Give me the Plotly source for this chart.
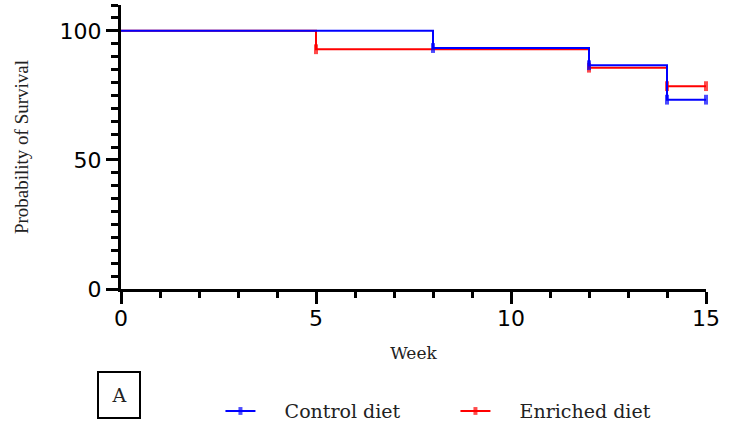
import plotly.graph_objects as go

# Data (Kaplan-Meier survival, %)
weeks_control = [0, 8, 12, 14, 15]
surv_control = [100, 93.33, 86.67, 73.33, 73.33]
weeks_enriched = [0, 5, 12, 14, 15]
surv_enriched = [100, 92.86, 85.71, 78.57, 78.57]
x_ticks = [0, 5, 10, 15]
y_ticks = [0, 50, 100]
series_names = ["Control diet", "Enriched diet"]

BLUE = "#0000FF"
RED = "#FF0000"
SERIF = "Liberation Serif, serif"
WIDE_SERIF = "DejaVu Serif, serif"
SANS = "DejaVu Sans, sans-serif"
PAD = "\u00a0\u00a0\u00a0\u00a0"

fig = go.Figure()

def km_trace(x, y, name, color, rank):
    sizes = [0] + [7] * (len(x) - 1)
    return go.Scatter(
        x=x, y=y, name=PAD + name, mode="lines+markers",
        line=dict(color=color, width=2, shape="hv"),
        marker=dict(symbol="line-ns", size=sizes, color=color,
                    line=dict(color=color, width=4)),
        cliponaxis=False, legendrank=rank,
    )

fig.add_trace(km_trace(weeks_enriched, surv_enriched, series_names[1], RED, 2))
fig.add_trace(km_trace(weeks_control, surv_control, series_names[0], BLUE, 1))

fig.update_layout(
    width=737, height=443,
    margin=dict(l=121, r=31, t=5, b=154),
    paper_bgcolor="white", plot_bgcolor="white",
    showlegend=True,
    legend=dict(
        orientation="h", x=0.17, y=-0.43, xanchor="left", yanchor="middle",
        font=dict(family=WIDE_SERIF, size=19, color="#222"),
        entrywidth=190, entrywidthmode="pixels",
        bgcolor="rgba(0,0,0,0)",
    ),
    xaxis=dict(
        range=[0, 15], tickvals=x_ticks, showgrid=False, zeroline=False,
        showline=True, linecolor="black", linewidth=3,
        ticks="outside", ticklen=12, tickwidth=3, tickcolor="black",
        tickfont=dict(family=SANS, size=22, color="black"),
        ticklabelstandoff=-4,
        minor=dict(dtick=1, ticks="outside", ticklen=6, tickwidth=3,
                   tickcolor="black", showgrid=False),
        title=dict(text="Week", font=dict(family=WIDE_SERIF, size=17, color="#222"),
                   standoff=17),
        automargin=False,
    ),
    yaxis=dict(
        range=[0, 110], tickvals=y_ticks, showgrid=False, zeroline=False,
        showline=True, linecolor="black", linewidth=3,
        ticks="outside", ticklen=12, tickwidth=3, tickcolor="black",
        tickfont=dict(family=SANS, size=22, color="black"),
        minor=dict(dtick=5, ticks="outside", ticklen=7, tickwidth=3,
                   tickcolor="black", showgrid=False),
        title=dict(text="Probability of Survival",
                   font=dict(family=SERIF, size=19, color="#222"),
                   standoff=26),
        automargin=False,
    ),
)

fig.add_annotation(
    text="A", xref="paper", yref="paper", x=-0.003, y=-0.373,
    xanchor="center", yanchor="middle", showarrow=False,
    font=dict(family=WIDE_SERIF, size=19, color="#222"),
    bordercolor="black", borderwidth=2, width=38, height=42,
)

fig.write_html("out.html", config={"displayModeBar": False},
               post_script="document.body.style.margin='0px';")
